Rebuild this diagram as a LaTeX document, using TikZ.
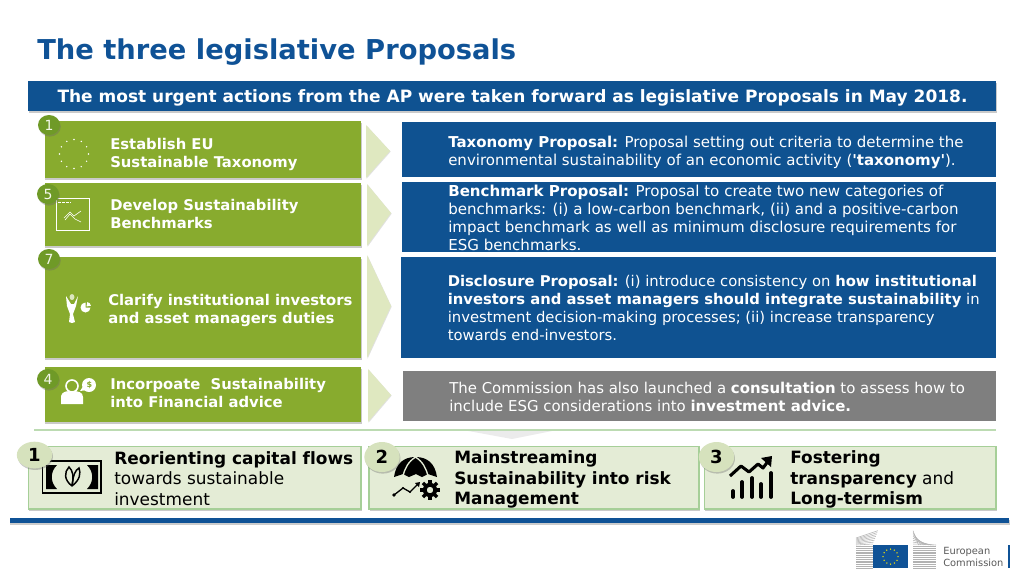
\documentclass[tikz,border=0pt]{standalone}
\usepackage{fontspec}
\setmainfont{DejaVu Sans}[Ligatures=NoCommon]
\newfontfamily\plainq{DejaVu Sans}
\usetikzlibrary{shadows,shapes.geometric}
\definecolor{ecblue}{HTML}{0F5296}
\definecolor{boxblue}{HTML}{0F5291}
\definecolor{leaf}{HTML}{88AB2E}
\definecolor{leafdark}{HTML}{6F9A27}
\definecolor{chev}{HTML}{DFE8C0}
\definecolor{pale}{HTML}{E4ECD6}
\definecolor{paleedge}{HTML}{A6CF98}
\definecolor{stone}{HTML}{7F7F7F}
\tikzset{
  softshadow/.style={drop shadow={shadow xshift=0.6pt,shadow yshift=-1.2pt,opacity=.35,fill=black!60}},
  greenbox/.style={fill=leaf,softshadow},
  bluebox/.style={fill=boxblue},
  palebox/.style={fill=pale,draw=paleedge,line width=1pt,softshadow},
  chevron/.style={fill=chev,drop shadow={shadow xshift=0.5pt,shadow yshift=-.5pt,opacity=.2,fill=black!60}},
  badge/.style={ellipse,fill=leafdark,inner sep=0pt,minimum width=16.5pt,minimum height=15pt,text=white!90!leaf,font=\fontsize{10.5}{12}\selectfont,softshadow},
  bigbadge/.style={ellipse,fill=pale!85!leaf,inner sep=0pt,minimum width=26.5pt,minimum height=22.5pt,font=\fontsize{13.5}{15}\selectfont\bfseries,softshadow},
  gtxt/.style={anchor=west,align=left,inner sep=0pt,text=white,font=\fontsize{11.1}{13.5}\selectfont\bfseries},
  btxt/.style={anchor=west,align=left,inner sep=0pt,text=white,font=\fontsize{11.2}{13.5}\selectfont},
  ptxt/.style={anchor=west,align=left,inner sep=0pt,text=black,font=\fontsize{12.7}{15.4}\selectfont},
  icon/.style={line width=.45pt,draw=white},
}
\begin{document}
\begin{tikzpicture}[x=0.75pt,y=-0.75pt]
\useasboundingbox (0,0) rectangle (1024,576);
% title
\node[anchor=west,inner sep=0pt,text=ecblue,font=\fontsize{20.5}{24}\selectfont\bfseries] (title) at (37,52) {The three legislative Proposals};
% header band
\path[fill=boxblue,softshadow] (28,81) rectangle (996,111);
\node[anchor=center,inner sep=0pt,text=white,font=\fontsize{12.75}{14}\selectfont\bfseries] (head) at (512.5,97.5) {The most urgent actions from the AP were taken forward as legislative Proposals in May 2018.};
% left green boxes
\path[greenbox] (44.5,121) rectangle (361,178);
\path[greenbox] (44.5,183) rectangle (361,246);
\path[greenbox] (44.5,257) rectangle (361,358);
\path[greenbox] (44.5,367) rectangle (361,422);
% chevrons
\path[chevron] (366,125) -- (390,151) -- (366,178) -- cycle;
\path[chevron] (367,184) -- (391,213) -- (367,246) -- cycle;
\path[chevron] (367,255) -- (391,306) -- (367,358) -- cycle;
\path[chevron] (368,369) -- (391,395) -- (368,422) -- cycle;
\path[fill=black!8] (463,430) -- (557,430) -- (512,439) -- cycle;
% right boxes
\path[bluebox] (402,122) rectangle (996,177);
\path[bluebox] (402,182) rectangle (996,252);
\path[bluebox] (401,257) rectangle (996,358);
\path[fill=stone] (403,371) rectangle (996,421);
% left labels
\node[gtxt] (t1) at (110,154) {Establish EU\\Sustainable Taxonomy};
\node[gtxt] (t5) at (110,213.5) {Develop Sustainability\\Benchmarks};
\node[gtxt] (t7) at (108,310.5) {Clarify institutional investors\\and asset managers duties};
\node[gtxt] (t4) at (110,393) {Incorpoate\ \ Sustainability\\into Financial advice};
% right texts
\node[btxt,font=\fontsize{11.25}{13.5}\selectfont] (r1) at (448,152) {\textbf{Taxonomy Proposal:} Proposal setting out criteria to determine the\\environmental sustainability of an economic activity ({\plainq\bfseries 'taxonomy'}).};
\node[btxt,font=\fontsize{11.3}{13.5}\selectfont] (r2) at (448,218) {\textbf{Benchmark Proposal:} Proposal to create two new categories of\\benchmarks: (i) a low-carbon benchmark, (ii) and a positive-carbon\\impact benchmark as well as minimum disclosure requirements for\\ESG benchmarks.};
\node[btxt,font=\fontsize{11.1}{13.5}\selectfont] (r3) at (447.5,308) {\textbf{Disclosure Proposal:} (i) introduce consistency on \textbf{how institutional}\\\textbf{investors and asset managers should integrate sustainability} in\\investment decision-making processes; (ii) increase transparency\\towards end-investors.};
\node[btxt] (r4) at (449,396.5) {The Commission has also launched a \textbf{consultation} to assess how to\\include ESG considerations into \textbf{investment advice.}};
% divider
\draw[draw=paleedge!75,line width=1pt] (34,430) -- (996,430);
% bottom boxes
\path[palebox] (28.5,446.5) rectangle (361,509);
\path[palebox] (369,446.5) rectangle (699,509);
\path[palebox] (704.5,446.5) rectangle (996,509);
\node[ptxt] (p1) at (114,478.5) {\textbf{Reorienting capital flows}\\towards sustainable\\investment};
\node[ptxt] (p2) at (454,479.5) {\textbf{Mainstreaming}\\\textbf{Sustainability into risk}\\\textbf{Management}};
\node[ptxt] (p3) at (790,479.5) {\textbf{Fostering}\\\textbf{transparency} and\\\textbf{Long-termism}};
% bottom rule
\path[fill=black!20] (10,520) rectangle (1010,525);
\path[fill=ecblue] (10,518) rectangle (1009,522.5);
% icon: stars
\foreach \a in {0,30,...,330}
  \fill[white] ({74+14.5*cos(\a)},{154+14.5*sin(\a)}) circle (.8);
% icon: benchmark
\draw[icon] (56,198) rectangle (89,230);
\draw[icon,dash pattern=on 2pt off 1pt] (58,202) -- (71,202);
\draw[icon] (64,218) -- (70,212) -- (74,216) -- (81,211);
\draw[icon] (65,220) -- (70,214) -- (75,219) -- (81,222);
% icon: investor
\fill[white] (66,296) -- (67,306) -- (70,314) -- (69,322) -- (72,323) -- (75,322) -- (73,314) -- (76,306) -- (78,296) -- (74,304) -- (71,304) -- cycle;
\fill[white!70!leaf] (72,297) ellipse (2.5 and 3);
\fill[white] (85.5,307.5) -- ++(0:5) arc (0:270:5) -- cycle;
\fill[white] (86.5,306.5) -- ++(-80:4.5) arc (-80:-10:4.5) -- cycle;
% icon: advisor
\fill[white] (61,404) -- (61,396) .. controls (62,391) and (68,391) .. (72,391) .. controls (78,391) and (83,392) .. (83,397) -- (83,404) -- cycle;
\draw[white,line width=1.2pt] (72,386) circle (6);
\fill[white] (89,385) circle (7);
\fill[white] (80,391) -- (84,385) -- (87,390) -- cycle;
\node[inner sep=0pt,text=leaf,font=\fontsize{6}{7}\selectfont\bfseries] (dollar) at (89.5,385) {\$};
% icon: banknote with leaf
\draw[line width=1.3pt] (42.5,461) rectangle (101,493);
\fill (46,465) -- (57,465) .. controls (50,472) and (50,482) .. (57,489) -- (46,489) -- cycle;
\fill (98,465) -- (87,465) .. controls (94,472) and (94,482) .. (87,489) -- (98,489) -- cycle;
\draw[line width=1.1pt] (72,486) .. controls (64,480) and (64,472) .. (69,467) .. controls (73,471) and (74,476) .. (72,486);
\draw[line width=1.1pt] (72,486) .. controls (80,480) and (81,473) .. (79,468) .. controls (75,470) and (73,476) .. (72,486);
% icon: umbrella + gear
\fill (394,477) .. controls (396,463) and (404,457) .. (415.5,457) .. controls (427,457) and (435,463) .. (437,477) -- (428,474) -- (422,477) -- (416,474) -- (409,477) -- (403,474) -- cycle;
\draw[pale,line width=1pt] (415.5,457) .. controls (408,462) and (405,468) .. (403,476) (415.5,457) .. controls (423,462) and (426,468) .. (428,476);
\draw[line width=1pt] (394,495) -- (403,488) -- (410,492) -- (418,484);
\fill (394,495) circle (1.8) (403,488) circle (1.2) (410,492) circle (1.2);
\fill (420,482) -- (415,483) -- (419,487) -- cycle;
\draw[line width=3pt] (430,490) circle (5.5);
\foreach \a in {0,45,...,315}
  \draw[line width=2.6pt] ({430+7*cos(\a)},{490+7*sin(\a)}) -- ({430+10*cos(\a)},{490+10*sin(\a)});
% icon: chart
\draw[line width=2.3pt,line join=round] (730,476) -- (741,466) -- (749,472) -- (758,464) -- (763,468) -- (769,460);
\fill (772,456) -- (761,458) -- (771,467) -- cycle;
\foreach \x/\t in {733/491,742/482,752/478,761/484,771/473}
  \draw[line width=2.8pt,line cap=round] (\x,\t) -- (\x,497);
% badges
\node[badge] (b1) at (49,125) {1};
\node[badge] (b5) at (48,194) {5};
\node[badge] (b7) at (49,259) {7};
\node[badge] (b4) at (48,379) {4};
\node[bigbadge,minimum height=20pt] (n1) at (34.5,455) {1};
\node[bigbadge] (n2) at (382,457) {2};
\node[bigbadge] (n3) at (716.5,457) {3};
% logo
\foreach \i in {0,...,12}{
  \draw[black!30,line width=.4pt] (856,{568-\i*1.8}) -- (873,{568-\i*1.8});
  \draw[black!30,line width=.4pt] (913,{568-\i*1.8}) -- (936,{568-\i*1.8});
}
\foreach \i in {0,...,7}{
  \draw[black!30,line width=.4pt] (856,{545-\i*1.0}) -- ({873+\i*.7},{544-\i*1.9});
  \draw[black!30,line width=.4pt] (913,{544-\i*1.9}) -- ({936-\i*2.5},545);
}
\fill[ecblue] (873,545) rectangle (908,568);
\foreach \a in {0,30,...,330}
  \fill[yellow!90!orange] ({890.5+7.5*cos(\a)},{556.5+7.5*sin(\a)}) circle (.75);
\node[anchor=west,align=left,inner sep=0pt,text=black!65,font=\fontsize{7.4}{9}\selectfont] (logo) at (943,557) {European\\Commission};
\path[fill=ecblue] (1008,545) rectangle (1009.5,568);
\end{tikzpicture}
\end{document}
